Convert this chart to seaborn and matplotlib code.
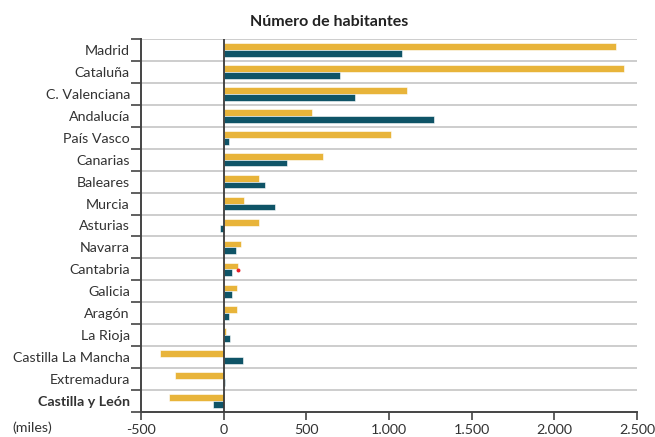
import matplotlib
matplotlib.use("Agg")
import matplotlib.pyplot as plt
import matplotlib.ticker as mticker
import seaborn as sns
import pandas as pd
import numpy as np

regions = ["Madrid", "Cataluña", "C. Valenciana", "Andalucía", "País Vasco",
           "Canarias", "Baleares", "Murcia", "Asturias", "Navarra", "Cantabria",
           "Galicia", "Aragón", "La Rioja", "Castilla La Mancha", "Extremadura",
           "Castilla y León"]
serie_1 = [2371, 2423, 1108, 532, 1011, 603, 212, 123, 214, 107, 89, 83, 79, 12, -388, -295, -328]
serie_2 = [1080, 702, 793, 1272, 30, 386, 251, 309, -24, 75, 51, 53, 30, 36, 117, 8, -63]
series_names = ["serie_1", "serie_2"]
colors = ["#E8B43A", "#0F5467"]
xticks = [-500, 0, 500, 1000, 1500, 2000, 2500]
marker_region = ["Cantabria"]
marker_value = [85]

sns.set_style("white")
plt.rcParams["font.family"] = ["Lato", "DejaVu Sans"]

df = pd.DataFrame({
    "region": regions * 2,
    "valor": serie_1 + serie_2,
    "serie": [series_names[0]] * len(regions) + [series_names[1]] * len(regions),
})

fig = plt.figure(figsize=(6.55, 4.37), dpi=100)
ax = fig.add_axes([141 / 655, 1 - 412 / 437, (637 - 141) / 655, (412 - 39) / 437])

sns.barplot(data=df, y="region", x="valor", hue="serie", order=regions,
            hue_order=series_names, palette=colors, orient="h", width=0.62,
            dodge=True, ax=ax, legend=False, edgecolor="white", linewidth=0.4,
            saturation=1)

# red marker
pos = [regions.index(r) + 0.05 for r in marker_region]
ax.scatter(marker_value, pos, color="#E8202A", s=8, zorder=5, linewidths=0)

ax.set_xlim(-500, 2500)
ax.set_ylim(len(regions) - 0.5, -0.5)

# separating lines between categories
for b in np.arange(-0.5, len(regions) - 0.5, 1.0):
    ax.axhline(b, color="#C9C9C9", lw=1.3, zorder=0)

ax.axvline(0, color="#3a3a3a", lw=1.3, zorder=3)

ax.set_xticks(xticks)
ax.xaxis.set_major_formatter(mticker.FuncFormatter(
    lambda v, p: f"{int(v):,}".replace(",", ".")))

ax.set_yticks(range(len(regions)))
ax.set_yticklabels(regions)
ax.yaxis.set_minor_locator(mticker.FixedLocator(np.arange(-0.5, len(regions), 1.0)))
ax.tick_params(axis="y", which="major", length=0, pad=8, labelsize=10.3, labelcolor="#333333")
ax.tick_params(axis="y", which="minor", length=7, width=1.2, color="#444444", left=True)
ax.tick_params(axis="x", which="major", length=6, width=1.2, color="#444444",
               labelsize=10.3, labelcolor="#333333", pad=3, bottom=True)

for lab in ax.get_yticklabels():
    if lab.get_text() == "Castilla y León":
        lab.set_fontweight("bold")

for s in ["top", "right"]:
    ax.spines[s].set_visible(False)
for s in ["left", "bottom"]:
    ax.spines[s].set_color("#444444")
    ax.spines[s].set_linewidth(1.4)

ax.set_xlabel("")
ax.set_ylabel("")

fig.text(329 / 655, 1 - 22 / 437, "Número de habitantes", ha="center", va="center",
         fontsize=11.5, fontweight="bold", color="#222222")
fig.text(12 / 655, 1 - 428 / 437, "(miles)", ha="left", va="center",
         fontsize=10.3, color="#333333")

fig.savefig("out.png", dpi=100)
